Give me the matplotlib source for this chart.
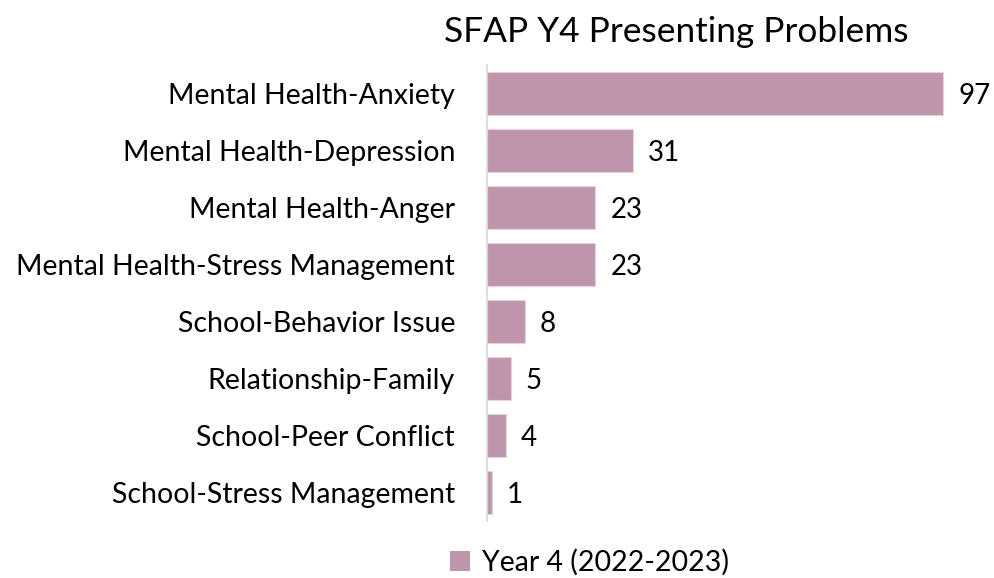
import matplotlib.pyplot as plt
from matplotlib.patches import Patch

categories = ["Mental Health-Anxiety", "Mental Health-Depression", "Mental Health-Anger",
              "Mental Health-Stress Management", "School-Behavior Issue",
              "Relationship-Family", "School-Peer Conflict", "School-Stress Management"]
values = [97, 31, 23, 23, 8, 5, 4, 1]
series_name = "Year 4 (2022-2023)"
title = "SFAP Y4 Presenting Problems"

bar_color = "#BF95AC"
plt.rcParams['font.family'] = ['Lato', 'DejaVu Sans']

fig = plt.figure(figsize=(9.94, 5.78), dpi=100)
ax = fig.add_axes([0.49, 0.0986, 0.50, 0.789])

ypos = list(range(len(categories)))
ax.barh(ypos, values, height=0.75, color=bar_color, edgecolor="#E6D3DD", linewidth=0.8)
ax.set_ylim(len(categories) - 0.5, -0.5)
ax.set_xlim(0, 105.7)
ax.set_yticks(ypos)
ax.set_yticklabels(categories, fontsize=20.5)
ax.tick_params(axis='y', length=0, pad=23)
ax.set_xticks([])
for s in ["top", "right", "bottom"]:
    ax.spines[s].set_visible(False)
ax.spines["left"].set_color("#D9D9D9")
ax.spines["left"].set_linewidth(1.2)

for y, v in zip(ypos, values):
    ax.text(v + 3.2, y + 0.05, str(v), va="center", ha="left", fontsize=20, color="black")

fig.text(0.68, 0.945, title, ha="center", va="center", fontsize=25.4)

fig.legend(handles=[Patch(facecolor=bar_color, label=series_name)],
           loc="center", bbox_to_anchor=(0.593, 0.027), frameon=False,
           fontsize=20.5, handlelength=0.7, handleheight=0.7, handletextpad=0.4)

fig.savefig("out.png", dpi=100)
